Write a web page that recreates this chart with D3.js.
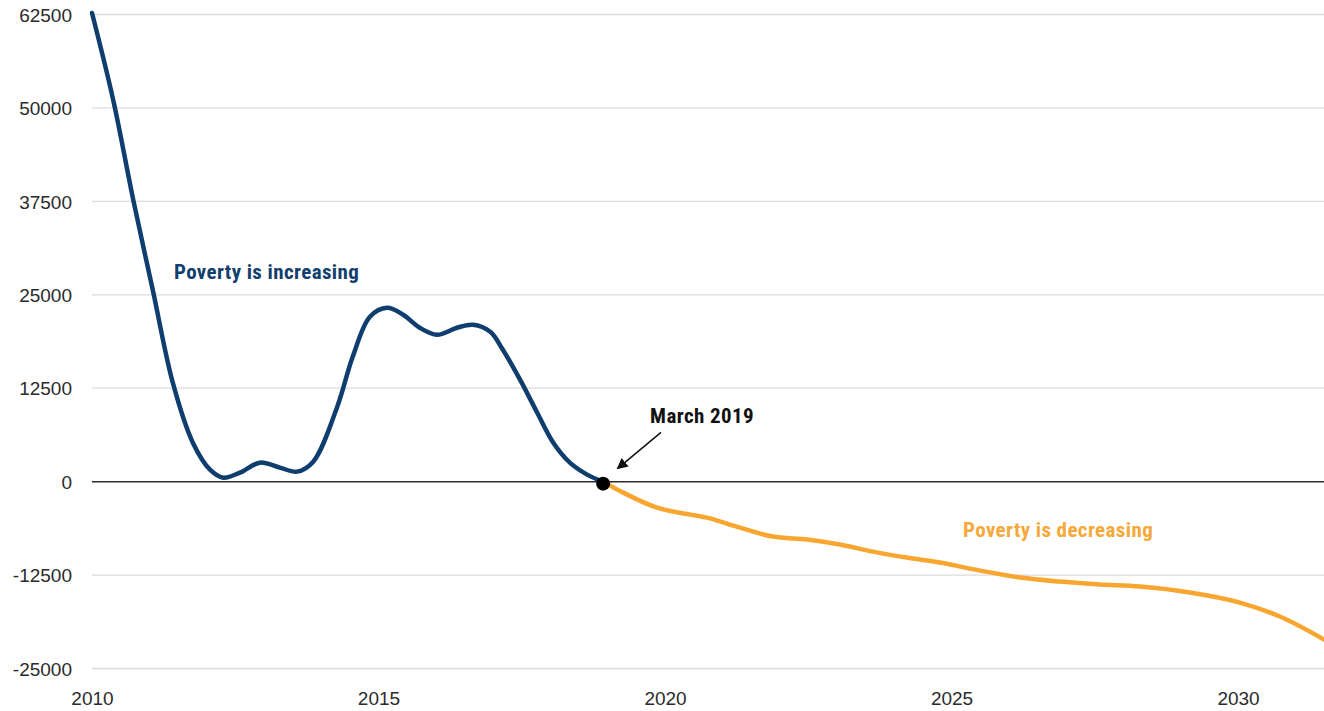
<!DOCTYPE html>
<html>
<head>
<meta charset="utf-8">
<script src="https://cdn.jsdelivr.net/npm/d3@7"></script>
<style>
  html, body { margin: 0; padding: 0; background: #fff; }
  svg { display: block; }
  .tick text { font-family: "Liberation Sans", Arial, sans-serif; font-size: 19px; fill: #2b2b2b; }
  .anno { font-family: "Liberation Sans Narrow", "Roboto Condensed", "Roboto", sans-serif; font-weight: bold; font-size: 21px; letter-spacing: 0.4px; }
</style>
</head>
<body>
<svg id="chart" width="1324" height="711"></svg>
<script>
// ---- data ----
const increasingYears = [2010.0, 2010.37, 2010.72, 2011.06, 2011.41, 2011.76, 2012.06, 2012.29, 2012.58, 2012.93,
  2013.28, 2013.58, 2013.86, 2014.28, 2014.55, 2014.85, 2015.15, 2015.43, 2015.72, 2016.02,
  2016.37, 2016.65, 2016.95, 2017.17, 2017.47, 2017.77, 2018.05, 2018.34, 2018.64, 2018.92];
const increasingValues = [62700, 51070, 37700, 25670, 13240, 5210, 1600, 530, 1200, 2540,
  1870, 1340, 2670, 10030, 16710, 22060, 23260, 22330, 20590, 19650,
  20590, 20990, 20050, 17650, 13640, 9220, 5210, 2540, 940, 0];
const decreasingYears = [2018.92, 2019.27, 2019.86, 2020.44, 2020.73, 2021.31, 2021.88, 2022.48, 2023.05, 2023.63,
  2024.22, 2024.80, 2025.50, 2026.20, 2026.89, 2027.59, 2028.29, 2029.16, 2030.03, 2030.73, 2031.5];
const decreasingValues = [0, -1470, -3480, -4410, -4810, -6150, -7350, -7750, -8420, -9360,
  -10160, -10830, -11900, -12830, -13370, -13770, -14040, -14840, -16180, -18050, -21120];
const yTicks = [-25000, -12500, 0, 12500, 25000, 37500, 50000, 62500];
const xTicks = [2010, 2015, 2020, 2025, 2030];
const markerYear = 2018.92, markerValue = 0;
const labelIncreasing = "Poverty is increasing";
const labelDecreasing = "Poverty is decreasing";
const labelMarker = "March 2019";

// ---- layout ----
const W = 1324, H = 711;
const mLeft = 92, mRight = 1324, mTop = 14.5, mBottom = 668.5;
const x = d3.scaleLinear().domain([2010, 2031.5]).range([mLeft, mRight]);
const y = d3.scaleLinear().domain([-25000, 62500]).range([mBottom, mTop]);

const svg = d3.select("#chart");
const defs = svg.append("defs");
defs.append("clipPath").attr("id", "clip")
  .append("rect").attr("x", mLeft - 5).attr("y", 0).attr("width", mRight - mLeft + 5).attr("height", H);
const arrowMarker = defs.append("marker")
  .attr("id", "arrow").attr("viewBox", "0 0 10 10").attr("refX", 9).attr("refY", 5)
  .attr("markerWidth", 11).attr("markerHeight", 11).attr("markerUnits", "userSpaceOnUse")
  .attr("orient", "auto");
arrowMarker.append("path").attr("d", "M0,0 L10,5 L0,10 z").attr("fill", "#111");

// grid lines
svg.append("g").selectAll("line").data(yTicks).join("line")
  .attr("x1", mLeft).attr("x2", mRight)
  .attr("y1", d => y(d)).attr("y2", d => y(d))
  .attr("stroke", d => d === 0 ? "#2b2b2b" : "#dcdcdc")
  .attr("stroke-width", d => d === 0 ? 1.5 : 1.3);

// y axis labels
const yAxis = d3.axisLeft(y).tickValues(yTicks).tickSize(0).tickPadding(20).tickFormat(d => String(d));
svg.append("g").attr("transform", `translate(${mLeft},0)`).call(yAxis)
  .call(g => g.select(".domain").remove())
  .selectAll("text").attr("dy", "0.35em");

// x axis labels
const xAxis = d3.axisBottom(x).tickValues(xTicks).tickSize(0).tickPadding(0).tickFormat(d => String(d));
svg.append("g").attr("transform", `translate(0,${mBottom + 30})`).call(xAxis)
  .call(g => g.select(".domain").remove())
  .selectAll("text").attr("dy", "0.35em");

const line = d3.line().x(d => x(d[0])).y(d => y(d[1])).curve(d3.curveCatmullRom.alpha(0.5));
const inc = increasingYears.map((v, i) => [v, increasingValues[i]]);
const dec = decreasingYears.map((v, i) => [v, decreasingValues[i]]);

const plot = svg.append("g").attr("clip-path", "url(#clip)");
plot.append("path").datum(dec).attr("d", line)
  .attr("fill", "none").attr("stroke", "#f8a630").attr("stroke-width", 4.5).attr("stroke-linecap", "round");
plot.append("path").datum(inc).attr("d", line)
  .attr("fill", "none").attr("stroke", "#0e3d6e").attr("stroke-width", 4.5).attr("stroke-linecap", "round");

// marker point
svg.append("circle").attr("cx", x(markerYear)).attr("cy", y(markerValue) + 2).attr("r", 7).attr("fill", "#000");

// arrow annotation
svg.append("line")
  .attr("x1", x(2019.93)).attr("y1", y(6600))
  .attr("x2", x(2019.17)).attr("y2", y(1750))
  .attr("stroke", "#111").attr("stroke-width", 1.5).attr("marker-end", "url(#arrow)");
svg.append("text").attr("class", "anno").attr("x", x(2019.74)).attr("y", y(7850))
  .attr("fill", "#111").text(labelMarker);

svg.append("text").attr("class", "anno").attr("x", x(2011.43)).attr("y", y(27150))
  .attr("fill", "#123f6e").text(labelIncreasing);
svg.append("text").attr("class", "anno").attr("x", x(2025.2)).attr("y", y(-7350))
  .attr("fill", "#f5a93a").text(labelDecreasing);
</script>
</body>
</html>
